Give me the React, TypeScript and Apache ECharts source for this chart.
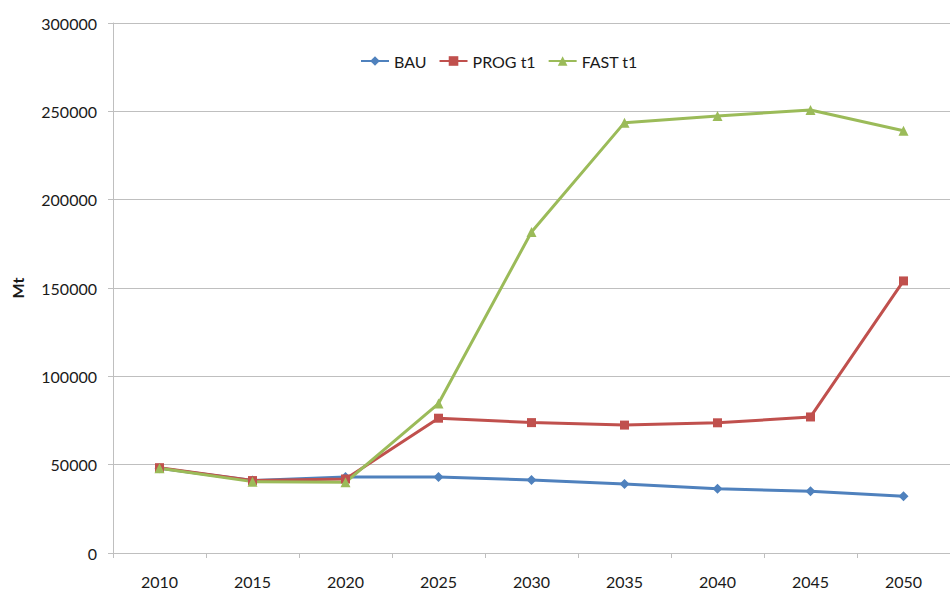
import React, { useEffect, useRef } from "react";
import * as echarts from "echarts";

const years = ["2010", "2015", "2020", "2025", "2030", "2035", "2040", "2045", "2050"];
const bau = [48000, 41000, 43000, 43000, 41300, 39100, 36400, 34900, 32100];
const prog = [48300, 41000, 41900, 76300, 73800, 72400, 73700, 77000, 154000];
const fast = [48000, 40400, 40000, 84600, 181700, 243600, 247400, 250800, 239000];
const seriesNames = ["BAU", "PROG t1", "FAST t1"];
const colors = ["#4F81BD", "#C0504D", "#9BBB59"];

const FONT = "Lato";
const TEXT = "#1a1a1a";
const GRAY = "#bfbfbf";

export default function App() {
  const ref = useRef<HTMLDivElement>(null);
  useEffect(() => {
    document.body.style.margin = "0";
    const chart = echarts.init(ref.current!, null, { renderer: "svg" });
    const mk = (name: string, data: number[], color: string, symbol: string, size: number) => ({
      name,
      type: "line",
      data,
      symbol,
      symbolSize: size,
      showAllSymbol: true,
      lineStyle: { color, width: 3 },
      itemStyle: { color },
      emphasis: { disabled: true },
    });
    chart.setOption({
      animation: false,
      textStyle: { fontFamily: FONT },
      color: colors,
      legend: {
        left: 355,
        top: 48,
        itemWidth: 28,
        itemHeight: 12,
        itemGap: 12,
        textStyle: { fontFamily: FONT, fontSize: 16, color: TEXT },
        data: seriesNames,
      },
      grid: { left: 113, top: 23, width: 850, height: 530, containLabel: false },
      xAxis: {
        type: "category",
        data: years,
        boundaryGap: true,
        axisLine: { lineStyle: { color: GRAY, width: 1 } },
        axisTick: { show: true, length: 5, inside: false, lineStyle: { color: GRAY } },
        axisLabel: { margin: 20, fontFamily: FONT, fontSize: 16, color: TEXT },
        splitLine: { show: false },
      },
      yAxis: {
        type: "value",
        min: 0,
        max: 300000,
        interval: 50000,
        name: "Mt",
        nameLocation: "middle",
        nameRotate: 90,
        nameGap: 88,
        nameTextStyle: { fontFamily: FONT, fontSize: 16, fontWeight: "bold", color: TEXT },
        axisLine: { show: true, lineStyle: { color: GRAY, width: 1 } },
        axisTick: { show: true, length: 5, lineStyle: { color: GRAY } },
        axisLabel: {
          margin: 16,
          fontFamily: FONT,
          fontSize: 16,
          color: TEXT,
          formatter: (v: number) => String(v),
        },
        splitLine: { show: true, lineStyle: { color: GRAY, width: 1 } },
      },
      series: [
        mk(seriesNames[0], bau, colors[0], "diamond", 10),
        mk(seriesNames[1], prog, colors[1], "rect", 9),
        mk(seriesNames[2], fast, colors[2], "triangle", 10),
      ],
    });
    return () => chart.dispose();
  }, []);
  return <div ref={ref} style={{ width: 950, height: 592 }} />;
}
